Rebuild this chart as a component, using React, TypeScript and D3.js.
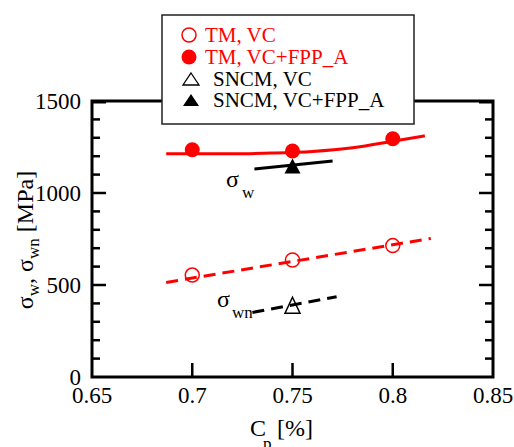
import React from "react";
import * as d3 from "d3";

const cp = [0.7, 0.75, 0.8];
const tmVC = [554, 636, 714];
const tmFPP = [1235, 1228, 1295];
const sncmCp = [0.75];
const sncmVC = [390];
const sncmFPP = [1147];

const tmFppFitX = [0.687, 0.7, 0.72, 0.74, 0.76, 0.78, 0.8, 0.816];
const tmFppFitY = [1213, 1213, 1213, 1217, 1226, 1246, 1281, 1311];
const tmVcFitX = [0.687, 0.819];
const tmVcFitY = [514, 753];
const sncmFppFitX = [0.731, 0.77];
const sncmFppFitY = [1130, 1174];
const sncmVcFitX = [0.73, 0.772];
const sncmVcFitY = [351, 436];

const xTicks = [0.65, 0.7, 0.75, 0.8, 0.85];
const xTickLabels = ["0.65", "0.7", "0.75", "0.8", "0.85"];
const yTicks = [0, 500, 1000, 1500];
const yMinor = [100, 200, 300, 400, 600, 700, 800, 900, 1100, 1200, 1300, 1400];

const legendItems = [
  { label: "TM, VC", color: "#ff0000", shape: "circle", filled: false },
  { label: "TM, VC+FPP_A", color: "#ff0000", shape: "circle", filled: true },
  { label: "SNCM, VC", color: "#000000", shape: "triangle", filled: false },
  { label: "SNCM, VC+FPP_A", color: "#000000", shape: "triangle", filled: true },
];

const FONT = "Liberation Serif, Tinos, Times New Roman, DejaVu Serif, serif";

export default function App() {
  const L = 92, R = 493, T = 101, B = 377;
  const x = d3.scaleLinear().domain([0.65, 0.85]).range([L, R]);
  const y = d3.scaleLinear().domain([0, 1500]).range([B, T]);

  const line = d3.line<[number, number]>().x((d) => x(d[0])).y((d) => y(d[1]));
  const curve = d3
    .line<[number, number]>()
    .x((d) => x(d[0]))
    .y((d) => y(d[1]))
    .curve(d3.curveMonotoneX);

  const zip = (a: number[], b: number[]) => a.map((v, i) => [v, b[i]] as [number, number]);

  const tri = (cx: number, cy: number, w: number, h: number) =>
    `M${cx},${cy - h / 2}L${cx + w / 2},${cy + h / 2}L${cx - w / 2},${cy + h / 2}Z`;

  const ts = (size: number) => ({ fontFamily: FONT, fontSize: size });

  return (
    <svg width={514} height={447} style={{ display: "block", position: "absolute", left: 0, top: 0, fontFamily: FONT }}>
      <rect width={514} height={447} fill="#fff" />
      {/* fit lines */}
      <path d={curve(zip(tmFppFitX, tmFppFitY)) || ""} fill="none" stroke="#ff0000" strokeWidth={3} />
      <path d={line(zip(tmVcFitX, tmVcFitY)) || ""} fill="none" stroke="#ff0000" strokeWidth={3} strokeDasharray="12,7" />
      <path d={line(zip(sncmFppFitX, sncmFppFitY)) || ""} fill="none" stroke="#000" strokeWidth={3} />
      <path d={line(zip(sncmVcFitX, sncmVcFitY)) || ""} fill="none" stroke="#000" strokeWidth={3} strokeDasharray="12,7" />

      {/* markers */}
      {cp.map((c, i) => (
        <circle key={"o" + i} cx={x(c)} cy={y(tmVC[i])} r={7} fill="none" stroke="#ff0000" strokeWidth={1.5} />
      ))}
      {cp.map((c, i) => (
        <circle key={"f" + i} cx={x(c)} cy={y(tmFPP[i])} r={7.5} fill="#ff0000" />
      ))}
      {sncmCp.map((c, i) => (
        <path key={"to" + i} d={tri(x(c), y(sncmVC[i]), 15, 16)} fill="none" stroke="#000" strokeWidth={1.5} />
      ))}
      {sncmCp.map((c, i) => (
        <path key={"tf" + i} d={tri(x(c), y(sncmFPP[i]), 16, 15)} fill="#000" />
      ))}

      {/* curve labels */}
      <text x={226} y={187} style={ts(24)} fill="#000">σ</text>
      <text x={242} y={198} style={ts(17)} fill="#000">w</text>
      <text x={217} y={307} style={ts(24)} fill="#000">σ</text>
      <text x={232} y={318} style={ts(17)} fill="#000">wn</text>

      {/* frame */}
      <rect x={L} y={T} width={R - L} height={B - T} fill="none" stroke="#000" strokeWidth={3} />
      {xTicks.slice(1, -1).map((t) => (
        <g key={"xt" + t}>
          <line x1={x(t)} x2={x(t)} y1={B} y2={B - 14} stroke="#000" strokeWidth={2.5} />
          <line x1={x(t)} x2={x(t)} y1={T} y2={T + 14} stroke="#000" strokeWidth={2.5} />
        </g>
      ))}
      {yTicks.slice(1, -1).map((t) => (
        <g key={"yt" + t}>
          <line x1={L} x2={L + 14} y1={y(t)} y2={y(t)} stroke="#000" strokeWidth={2.5} />
          <line x1={R} x2={R - 14} y1={y(t)} y2={y(t)} stroke="#000" strokeWidth={2.5} />
        </g>
      ))}
      <line x1={L} x2={L + 14} y1={y(1500) + 1} y2={y(1500) + 1} stroke="#000" strokeWidth={3} />
      <line x1={R} x2={R - 14} y1={y(1500) + 1} y2={y(1500) + 1} stroke="#000" strokeWidth={3} />
      {yMinor.map((t) => (
        <g key={"ym" + t}>
          <line x1={L} x2={L + 8} y1={y(t)} y2={y(t)} stroke="#000" strokeWidth={2.5} />
          <line x1={R} x2={R - 8} y1={y(t)} y2={y(t)} stroke="#000" strokeWidth={2.5} />
        </g>
      ))}

      {/* tick labels */}
      {xTicks.map((t, i) => (
        <text key={"xl" + t} x={x(t)} y={403} textAnchor="middle" style={ts(23)} fill="#000">
          {xTickLabels[i]}
        </text>
      ))}
      {yTicks.map((t) => (
        <text key={"yl" + t} x={81} y={y(t)} dy="0.34em" textAnchor="end" style={ts(23)} fill="#000">
          {t}
        </text>
      ))}

      {/* axis titles */}
      <text x={250} y={436} style={ts(24)} fill="#000">C</text>
      <text x={263} y={449} style={ts(17)} fill="#000">p</text>
      <text x={277} y={436} style={ts(24)} fill="#000">[%]</text>

      <g transform="translate(33,240) rotate(-90)">
        <text x={0} y={0} textAnchor="middle" style={ts(24)} fill="#000">
          <tspan>σ</tspan>
          <tspan style={{ fontSize: 17 }} dy={6}>w</tspan>
          <tspan dy={-6}>, σ</tspan>
          <tspan style={{ fontSize: 17 }} dy={6}>wn</tspan>
          <tspan dy={-6}> [MPa]</tspan>
        </text>
      </g>

      {/* legend */}
      <rect x={162} y={15} width={252} height={109} fill="#fff" stroke="#222" strokeWidth={1.5} />
      {legendItems.map((it, i) => {
        const cy = [35, 57, 79, 100][i];
        const by = [42, 64, 86, 107][i];
        return (
          <g key={"lg" + i}>
            {it.shape === "circle" ? (
              <circle
                cx={189}
                cy={cy}
                r={it.filled ? 7.5 : 7}
                fill={it.filled ? it.color : "none"}
                stroke={it.filled ? "none" : it.color}
                strokeWidth={1.5}
              />
            ) : (
              <path
                d={tri(191, cy, 16, 12)}
                fill={it.filled ? it.color : "none"}
                stroke={it.filled ? "none" : it.color}
                strokeWidth={1.3}
              />
            )}
            <text x={it.shape === "circle" ? 205 : 213} y={by} style={ts(21)} fill={it.color}>
              {it.label}
            </text>
          </g>
        );
      })}
    </svg>
  );
}
